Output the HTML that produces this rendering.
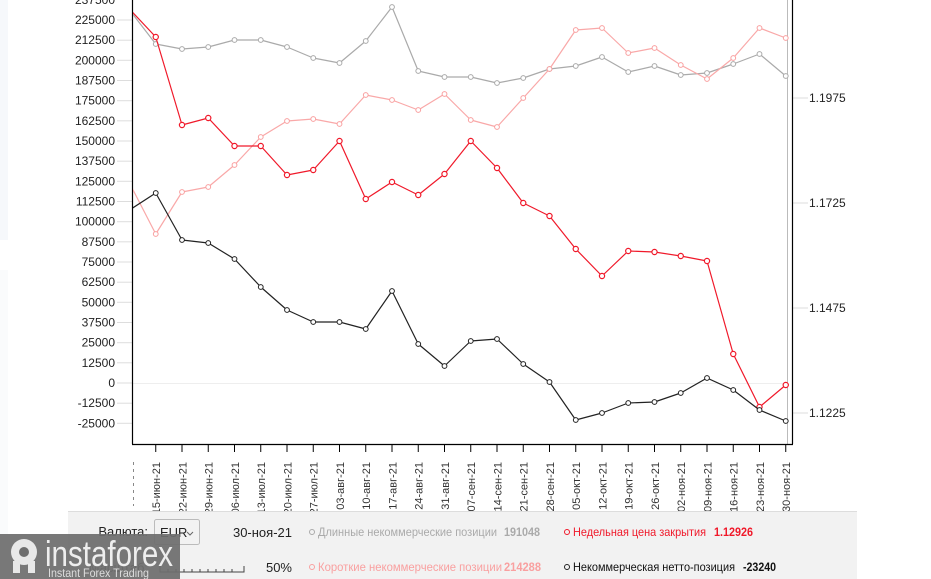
<!DOCTYPE html>
<html><head><meta charset="utf-8"><style>
body{margin:0;background:#fff;width:931px;height:579px;overflow:hidden;font-family:"Liberation Sans",Arial,sans-serif}
</style></head><body>
<svg width="931" height="579" viewBox="0 0 931 579" xmlns="http://www.w3.org/2000/svg" style="position:absolute;left:0;top:0">
<defs>
<clipPath id="pc"><rect x="133" y="0" width="660" height="444"/></clipPath>
<marker id="mg" markerWidth="8" markerHeight="8" refX="4" refY="4" markerUnits="userSpaceOnUse"><circle cx="4" cy="4" r="2.4" fill="#fff" stroke="#aaa" stroke-width="1"/></marker>
<marker id="mp" markerWidth="8" markerHeight="8" refX="4" refY="4" markerUnits="userSpaceOnUse"><circle cx="4" cy="4" r="2.4" fill="#fff" stroke="#f9a0a0" stroke-width="1"/></marker>
<marker id="mr" markerWidth="8" markerHeight="8" refX="4" refY="4" markerUnits="userSpaceOnUse"><circle cx="4" cy="4" r="2.6" fill="#fff" stroke="#f0192a" stroke-width="1.2"/></marker>
<marker id="mk" markerWidth="8" markerHeight="8" refX="4" refY="4" markerUnits="userSpaceOnUse"><circle cx="4" cy="4" r="2.4" fill="#fff" stroke="#222" stroke-width="1"/></marker>
</defs>
<rect x="0" y="0" width="8" height="240" fill="#f6f8fb"/>
<rect x="0" y="270" width="8" height="300" fill="#fafbfc"/>
<g stroke="#ddd" stroke-width="1">
<line x1="117" y1="20" x2="133" y2="20"/><line x1="117" y1="40.2" x2="133" y2="40.2"/><line x1="117" y1="60.3" x2="133" y2="60.3"/><line x1="117" y1="80.5" x2="133" y2="80.5"/><line x1="117" y1="100.7" x2="133" y2="100.7"/><line x1="117" y1="120.8" x2="133" y2="120.8"/><line x1="117" y1="141" x2="133" y2="141"/><line x1="117" y1="161.2" x2="133" y2="161.2"/><line x1="117" y1="181.3" x2="133" y2="181.3"/><line x1="117" y1="201.5" x2="133" y2="201.5"/><line x1="117" y1="221.7" x2="133" y2="221.7"/><line x1="117" y1="241.8" x2="133" y2="241.8"/><line x1="117" y1="262" x2="133" y2="262"/><line x1="117" y1="282.2" x2="133" y2="282.2"/><line x1="117" y1="302.3" x2="133" y2="302.3"/><line x1="117" y1="322.5" x2="133" y2="322.5"/><line x1="117" y1="342.7" x2="133" y2="342.7"/><line x1="117" y1="362.8" x2="133" y2="362.8"/><line x1="117" y1="383" x2="133" y2="383"/><line x1="117" y1="403.2" x2="133" y2="403.2"/><line x1="117" y1="423.3" x2="133" y2="423.3"/>
<line x1="133" y1="383.5" x2="787" y2="383.5" stroke="#eee"/>
<line x1="792" y1="98" x2="808" y2="98"/><line x1="792" y1="203" x2="808" y2="203"/><line x1="792" y1="308" x2="808" y2="308"/><line x1="792" y1="413" x2="808" y2="413"/>
</g>
<g font-size="12" fill="#222" text-anchor="end">
<text x="115" y="4">237500</text><text x="115" y="24">225000</text><text x="115" y="44.2">212500</text><text x="115" y="64.3">200000</text><text x="115" y="84.5">187500</text><text x="115" y="104.7">175000</text><text x="115" y="124.8">162500</text><text x="115" y="145">150000</text><text x="115" y="165.2">137500</text><text x="115" y="185.3">125000</text><text x="115" y="205.5">112500</text><text x="115" y="225.7">100000</text><text x="115" y="245.8">87500</text><text x="115" y="266">75000</text><text x="115" y="286.2">62500</text><text x="115" y="306.3">50000</text><text x="115" y="326.5">37500</text><text x="115" y="346.7">25000</text><text x="115" y="366.8">12500</text><text x="115" y="387">0</text><text x="115" y="407.2">-12500</text><text x="115" y="427.3">-25000</text>
</g>
<g font-size="12" fill="#222">
<text x="809" y="102">1.1975</text><text x="809" y="207">1.1725</text><text x="809" y="312">1.1475</text><text x="809" y="417">1.1225</text>
</g>
<line x1="787.5" y1="0" x2="787.5" y2="444" stroke="#bbb" stroke-width="1"/>
<line x1="792.5" y1="0" x2="792.5" y2="444" stroke="#000" stroke-width="1.2"/>
<line x1="132.5" y1="0" x2="132.5" y2="444" stroke="#000" stroke-width="1.2"/>
<line x1="132" y1="444.5" x2="793" y2="444.5" stroke="#000" stroke-width="1.2"/>
<g clip-path="url(#pc)" fill="none" stroke-width="1.2" stroke-linejoin="round">
<polyline stroke="#aaa" marker-mid="url(#mg)" marker-end="url(#mg)" points="129.5,10 155.75,44 182,49 208.25,47 234.5,40 260.75,40 287,47 313.25,58 339.5,63 365.75,41 392,7 418.25,71 444.5,77 470.75,77 497,83 523.25,78 549.5,69 575.75,66 602,57 628.25,72 654.5,66 680.75,75 707,73 733.25,64 759.5,54 785.75,76"/>
<polyline stroke="#f9a8a8" marker-mid="url(#mp)" marker-end="url(#mp)" points="129.5,183 155.75,234 182,192 208.25,187 234.5,165 260.75,137 287,121 313.25,119 339.5,124 365.75,95 392,100 418.25,110 444.5,94 470.75,120 497,127 523.25,98 549.5,69 575.75,30 602,28 628.25,53 654.5,48 680.75,65 707,79 733.25,58 759.5,28 785.75,38"/>
<polyline stroke="#f0192a" marker-mid="url(#mr)" marker-end="url(#mr)" points="129.5,9 155.75,37 182,125 208.25,118 234.5,146 260.75,146 287,175 313.25,170 339.5,141 365.75,199 392,182 418.25,195 444.5,174 470.75,141 497,168 523.25,203 549.5,216 575.75,249 602,276 628.25,251 654.5,252 680.75,256 707,261 733.25,354 759.5,407 785.75,385"/>
<polyline stroke="#222" marker-mid="url(#mk)" marker-end="url(#mk)" points="129.5,210 155.75,193 182,240 208.25,243 234.5,259 260.75,287 287,310 313.25,322 339.5,322 365.75,329 392,291 418.25,344 444.5,366 470.75,341 497,339 523.25,364 549.5,382 575.75,420 602,413 628.25,403 654.5,402 680.75,393 707,378 733.25,390 759.5,410 785.75,421"/>
</g>
<g stroke="#000" stroke-width="1">
<line x1="155.75" y1="445" x2="155.75" y2="452"/><line x1="182" y1="445" x2="182" y2="452"/><line x1="208.25" y1="445" x2="208.25" y2="452"/><line x1="234.5" y1="445" x2="234.5" y2="452"/><line x1="260.75" y1="445" x2="260.75" y2="452"/><line x1="287" y1="445" x2="287" y2="452"/><line x1="313.25" y1="445" x2="313.25" y2="452"/><line x1="339.5" y1="445" x2="339.5" y2="452"/><line x1="365.75" y1="445" x2="365.75" y2="452"/><line x1="392" y1="445" x2="392" y2="452"/><line x1="418.25" y1="445" x2="418.25" y2="452"/><line x1="444.5" y1="445" x2="444.5" y2="452"/><line x1="470.75" y1="445" x2="470.75" y2="452"/><line x1="497" y1="445" x2="497" y2="452"/><line x1="523.25" y1="445" x2="523.25" y2="452"/><line x1="549.5" y1="445" x2="549.5" y2="452"/><line x1="575.75" y1="445" x2="575.75" y2="452"/><line x1="602" y1="445" x2="602" y2="452"/><line x1="628.25" y1="445" x2="628.25" y2="452"/><line x1="654.5" y1="445" x2="654.5" y2="452"/><line x1="680.75" y1="445" x2="680.75" y2="452"/><line x1="707" y1="445" x2="707" y2="452"/><line x1="733.25" y1="445" x2="733.25" y2="452"/><line x1="759.5" y1="445" x2="759.5" y2="452"/><line x1="785.75" y1="445" x2="785.75" y2="452"/>
</g>
<g font-size="11" fill="#333" text-anchor="end">
<text transform="translate(160,462) rotate(-90)">15-июн-21</text>
<text transform="translate(186.25,462) rotate(-90)">22-июн-21</text>
<text transform="translate(212.5,462) rotate(-90)">29-июн-21</text>
<text transform="translate(238.75,462) rotate(-90)">06-июл-21</text>
<text transform="translate(265,462) rotate(-90)">13-июл-21</text>
<text transform="translate(291.25,462) rotate(-90)">20-июл-21</text>
<text transform="translate(317.5,462) rotate(-90)">27-июл-21</text>
<text transform="translate(343.75,462) rotate(-90)">03-авг-21</text>
<text transform="translate(370,462) rotate(-90)">10-авг-21</text>
<text transform="translate(396.25,462) rotate(-90)">17-авг-21</text>
<text transform="translate(422.5,462) rotate(-90)">24-авг-21</text>
<text transform="translate(448.75,462) rotate(-90)">31-авг-21</text>
<text transform="translate(475,462) rotate(-90)">07-сен-21</text>
<text transform="translate(501.25,462) rotate(-90)">14-сен-21</text>
<text transform="translate(527.5,462) rotate(-90)">21-сен-21</text>
<text transform="translate(553.75,462) rotate(-90)">28-сен-21</text>
<text transform="translate(580,462) rotate(-90)">05-окт-21</text>
<text transform="translate(606.25,462) rotate(-90)">12-окт-21</text>
<text transform="translate(632.5,462) rotate(-90)">19-окт-21</text>
<text transform="translate(658.75,462) rotate(-90)">26-окт-21</text>
<text transform="translate(685,462) rotate(-90)">02-ноя-21</text>
<text transform="translate(711.25,462) rotate(-90)">09-ноя-21</text>
<text transform="translate(737.5,462) rotate(-90)">16-ноя-21</text>
<text transform="translate(763.75,462) rotate(-90)">23-ноя-21</text>
<text transform="translate(790,462) rotate(-90)">30-ноя-21</text>
</g>
<line x1="133.5" y1="462" x2="133.5" y2="506" stroke="#888" stroke-width="1" stroke-dasharray="3,4"/>
<rect x="68" y="511" width="789" height="68" fill="#f2f2f2"/>
<line x1="68" y1="511.5" x2="857" y2="511.5" stroke="#ddd"/>
<g font-size="13" fill="#222">
<text x="148" y="536" text-anchor="end">Валюта:</text>
<rect x="154.5" y="519.5" width="45" height="25" fill="#f2f2f2" stroke="#bbb" rx="2"/>
<text x="160" y="537">EUR</text>
<path d="M187 532 l3 3 l3 -3" stroke="#666" fill="none"/>
<text x="292" y="537" text-anchor="end">30-ноя-21</text>
<text x="292" y="572" text-anchor="end">50%</text>
<text x="148" y="572" text-anchor="end" fill="#444">Масштаб:</text>
</g>
<path d="M160 566 v6 h84 v-6 M168 569v3 M176 569v3 M184 569v3 M192 569v3 M200 569v3 M208 569v3 M216 569v3 M224 569v3 M232 569v3" stroke="#444" fill="none"/>
<g font-size="12">
<circle cx="312" cy="532" r="2.5" fill="none" stroke="#aaa"/>
<text x="318" y="536" fill="#aaa" textLength="179" lengthAdjust="spacingAndGlyphs">Длинные некоммерческие позиции</text>
<text x="504" y="536" fill="#aaa" font-weight="bold" textLength="36" lengthAdjust="spacingAndGlyphs">191048</text>
<circle cx="567" cy="532" r="2.5" fill="none" stroke="#f0192a"/>
<text x="573" y="536" fill="#f0192a" textLength="133" lengthAdjust="spacingAndGlyphs">Недельная цена закрытия</text>
<text x="714" y="536" fill="#f0192a" font-weight="bold" textLength="39" lengthAdjust="spacingAndGlyphs">1.12926</text>
<circle cx="312" cy="567" r="2.5" fill="none" stroke="#f9a0a0"/>
<text x="318" y="571" fill="#f9a0a0" textLength="184" lengthAdjust="spacingAndGlyphs">Короткие некоммерческие позиции</text>
<text x="504" y="571" fill="#f9a0a0" font-weight="bold" textLength="37" lengthAdjust="spacingAndGlyphs">214288</text>
<circle cx="567" cy="567" r="2.5" fill="none" stroke="#222"/>
<text x="573" y="571" fill="#111" textLength="162" lengthAdjust="spacingAndGlyphs">Некоммерческая нетто-позиция</text>
<text x="743" y="571" fill="#111" font-weight="bold" textLength="33" lengthAdjust="spacingAndGlyphs">-23240</text>
</g>
<rect x="0" y="534" width="180" height="45" fill="#6e6e6e" opacity="0.93"/>
<g fill="#e8e8e8">
<circle cx="24" cy="552" r="13"/>
<circle cx="24" cy="552" r="5" fill="#6e6e6e"/>
<rect x="13" y="561" width="7" height="12"/><rect x="28" y="561" width="7" height="12"/>
</g>
<text x="45" y="566" font-size="36" fill="#eee" textLength="128" lengthAdjust="spacingAndGlyphs">instaforex</text>
<text x="48" y="577" font-size="12" fill="#ddd" textLength="101" lengthAdjust="spacingAndGlyphs">Instant Forex Trading</text>
</svg>
</body></html>
